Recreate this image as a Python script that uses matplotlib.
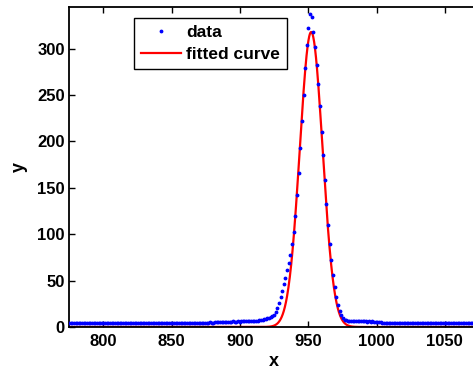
import numpy as np
import matplotlib
matplotlib.use('Agg')
import matplotlib.pyplot as plt

# measured spectrum: one sample every 1.2 units starting at 775
x_start = 775.0
x_step = 1.2

y_base_left = [
    4.5, 4.4, 4.6, 4.5, 4.3, 4.5, 4.6, 4.4, 4.5, 4.7, 4.5, 4.4, 4.6, 4.5, 4.3, 4.6,
    4.5, 4.4, 4.7, 4.5, 4.6, 4.4, 4.5, 4.3, 4.6, 4.5, 4.4, 4.6, 4.5, 4.7, 4.4, 4.5,
    4.6, 4.5, 4.3, 4.5, 4.6, 4.4, 4.5, 4.7, 4.5, 4.4, 4.6, 4.5, 4.4, 4.6, 4.5, 4.6,
    4.4, 4.5, 4.7, 4.5, 4.4, 4.6, 4.5, 4.3, 4.6, 4.5, 4.4, 4.6, 4.7, 4.5, 4.4, 4.6,
    4.5, 4.6, 4.4, 4.5, 4.7, 4.5, 4.6, 4.4, 4.5, 4.6, 4.7, 4.5, 4.6, 4.4, 4.7, 4.6,
    4.5, 4.7, 4.6, 4.8, 4.6, 4.7, 4.9, 4.7, 4.8, 5.0, 4.9, 5.1,
]
y_bump_left = [
    5.5, 5.7, 5.6, 5.8, 5.6, 5.9, 5.7, 5.8, 6.0, 5.8, 5.9, 6.1, 5.9, 6.0, 6.2, 6.0,
    6.1, 6.3, 6.2, 6.4,
]
y_shoulder = [
    6.5, 6.8, 7.0, 7.0, 7.5, 7.6, 8.0, 8.3, 8.7, 9.2, 9.8, 10.6, 11.7, 13.3, 16.2,
]
y_peak = [
    20.5, 26, 32, 39, 46, 53, 61, 69, 78, 89, 102, 120, 142, 166, 193, 222,
    250, 279, 304, 322, 337, 334, 318,
]
y_fall = [
    302, 282, 262, 238, 210, 185, 158, 133, 110, 90, 72, 56, 43, 32, 24, 17,
    12.5, 9.5, 8.0, 7.2,
]
y_bump_right = [
    6.8, 6.6, 6.5, 6.4, 6.6, 6.3, 6.2, 6.4, 6.1, 6.3, 6.0, 6.2, 5.9, 6.1, 5.8, 6.0,
    5.7, 5.6, 5.4,
]
y_base_right = [
    5.0, 4.9, 4.8, 4.7, 4.6, 4.7, 4.5, 4.6, 4.4, 4.5, 4.6, 4.5, 4.4, 4.6, 4.5, 4.3,
    4.5, 4.6, 4.4, 4.5, 4.7, 4.5, 4.4, 4.6, 4.5, 4.3, 4.6, 4.5, 4.4, 4.6, 4.5, 4.7,
    4.4, 4.5, 4.6, 4.5, 4.3, 4.5, 4.6, 4.4, 4.5, 4.7, 4.5, 4.4, 4.6, 4.5, 4.4, 4.6,
    4.5, 4.6, 4.4, 4.5, 4.7, 4.5, 4.4, 4.6, 4.5, 4.3, 4.6,
]

# gaussian fit parameters (amplitude, centre, width)
fit_amp = 318.0
fit_mu = 952.2
fit_sigma = 8.3

y_data = np.array(y_base_left + y_bump_left + y_shoulder + y_peak +
                  y_fall + y_bump_right + y_base_right)
x_data = x_start + x_step * np.arange(len(y_data))

x_fit = np.linspace(x_data[0], x_data[-1], 1500)
y_fit = fit_amp * np.exp(-0.5 * ((x_fit - fit_mu) / fit_sigma) ** 2)

plt.rcParams['font.family'] = ['Liberation Sans', 'DejaVu Sans']
plt.rcParams['font.weight'] = 'bold'

W, H = 473, 369
fig = plt.figure(figsize=(W / 100, H / 100), dpi=100)
ax = fig.add_axes([69 / W, 42 / H, 410 / W, 320 / H])

ax.plot(x_data, y_data, '.', color='#0000ff', ms=3.5, label='data', zorder=3)
ax.plot(x_fit, y_fit, '-', color='#ff0000', lw=1.6, label='fitted curve', zorder=2)

ax.set_xlim(775, 1075)
ax.set_ylim(0, 345)
ax.set_xticks([800, 850, 900, 950, 1000, 1050])
ax.set_yticks([0, 50, 100, 150, 200, 250, 300])

for s in ax.spines.values():
    s.set_linewidth(1.3)
ax.tick_params(direction='in', length=4, width=1, labelsize=12,
               top=True, right=True)
ax.tick_params(axis='x', pad=5)
ax.tick_params(axis='y', pad=3)
for lab in ax.get_xticklabels() + ax.get_yticklabels():
    lab.set_fontweight('bold')

ax.set_xlabel('x', fontsize=13, fontweight='bold', labelpad=3)
ax.set_ylabel('y', fontsize=13, fontweight='bold', labelpad=7)

leg = ax.legend(loc='upper left', bbox_to_anchor=(134 / W, 1 - 18 / H),
                bbox_transform=fig.transFigure, borderaxespad=0,
                fancybox=False, framealpha=1, edgecolor='black',
                prop={'weight': 'bold', 'size': 12.5},
                handlelength=2.3, handletextpad=0.3, borderpad=0.4,
                labelspacing=0.4, markerscale=1.0)
leg.get_frame().set_linewidth(1.0)

fig.savefig('out.png', dpi=100)
